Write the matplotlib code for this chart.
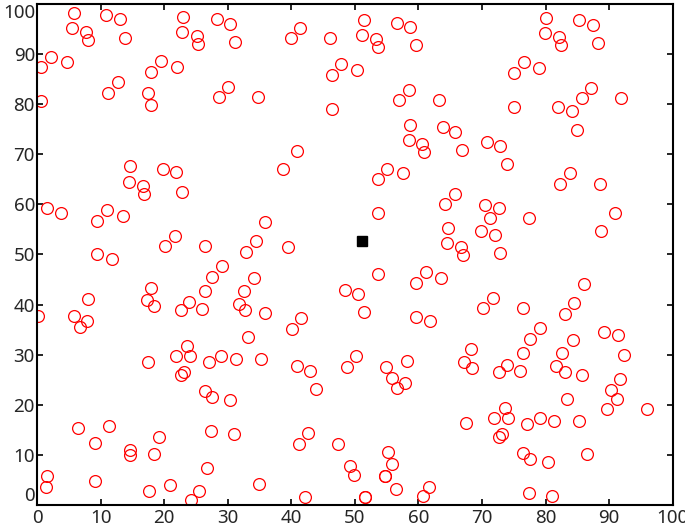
import matplotlib
matplotlib.use('Agg')
import matplotlib.pyplot as plt

################################################################################
## Data

CIRCLE_X = [
  5.8, 10.8, 13.0, 5.5, 7.7, 8.0, 13.9, 2.2, 0.7, 4.7, 0.6, 11.2, 12.7, 23.0, 22.8,
  25.1, 25.3, 28.3, 30.4, 31.2, 19.5, 18.0, 22.0, 17.5, 18.0, 28.6, 30.1, 14.7, 19.8, 21.9,
  14.5, 16.6, 16.9, 22.8, 1.5, 3.7, 11.0, 9.5, 13.5, 21.7, 20.1, 26.4, 9.5, 11.8, 29.1,
  27.5, 26.4, 32.9, 18.0, 17.3, 18.4, 8.1, 0.2, 5.8, 6.7, 7.9, 23.9, 22.6, 26.0, 32.6,
  31.7, 32.8,
  33.2, 17.5, 21.9, 23.6, 24.1, 27.0, 29.0, 31.3, 22.6, 23.2, 26.4, 27.5, 30.4, 6.4, 11.4,
  9.1, 14.7, 14.7, 18.4, 19.2, 27.3, 31.0, 26.7, 1.6, 1.4, 9.1, 17.6, 21.0, 25.5, 24.3,
  41.4, 39.9, 46.1, 51.5, 51.2, 53.4, 53.7, 56.6, 58.7, 59.6, 47.9, 46.4, 50.4, 34.8, 46.4,
  58.5, 57.0, 63.2, 58.7, 63.8, 65.8, 58.5, 60.6, 60.9, 40.9, 38.7, 55.1, 57.5,
  80.1, 85.3, 87.4, 79.9, 82.1, 82.4, 88.3, 76.6, 75.0, 79.0, 87.2, 85.7, 91.8, 75.1, 82.0,
  84.2, 85.0, 66.9, 70.8, 72.9, 73.9,
  53.6, 65.7, 64.2, 53.6, 64.7, 64.5, 35.9, 34.4, 39.5, 53.7, 61.2, 59.6, 63.6, 34.1, 35.8,
  48.4, 50.5, 51.4, 41.6, 40.1, 59.7, 61.8,
  35.2, 40.9, 43.0, 43.9, 48.7, 50.2, 54.9, 55.8, 56.7, 57.9, 58.2, 42.7, 41.2, 47.3, 55.2,
  55.8, 49.3, 49.9, 54.7, 54.7, 56.5, 35.0, 42.1, 51.6, 51.6, 61.6, 60.7,
  83.9, 82.3, 88.6, 70.4, 72.7, 71.2, 77.4, 91.0, 69.9, 72.0, 88.7, 66.7, 67.0, 72.9, 86.0,
  71.7, 70.2, 76.5, 84.5, 83.0, 79.1, 89.2, 91.4,
  77.6, 84.3, 68.2, 67.2, 68.4, 76.4, 82.6, 92.3, 74.0, 72.7, 76.0, 81.7, 83.0, 85.8, 91.7,
  90.3, 91.2, 89.6, 95.9, 83.4, 73.6, 71.9, 74.1, 67.5, 77.1, 79.2, 81.4, 85.3, 72.7, 73.2,
  76.4, 77.6, 80.4, 86.5, 77.4, 81.0,
]

CIRCLE_Y = [
  98.2, 97.8, 96.9, 95.1, 94.4, 92.7, 93.2, 89.4, 87.3, 88.3, 80.7, 82.3, 84.5, 97.4, 94.3,
  93.5, 91.9, 96.9, 96.0, 92.3, 88.5, 86.5, 87.3, 82.3, 79.8, 81.4, 83.5, 67.7, 67.1, 66.5,
  64.5, 63.7, 62.1, 62.5, 59.2, 58.3, 58.8, 56.7, 57.6, 53.7, 51.7, 51.7, 50.0, 49.1, 47.7,
  45.5, 42.7, 50.5, 43.4, 40.9, 39.7, 41.1, 37.7, 37.7, 35.5, 36.8, 40.5, 39.0, 39.1, 42.7,
  40.2, 39.0,
  33.5, 28.5, 29.7, 31.7, 29.7, 28.5, 29.7, 29.1, 26.0, 26.5, 22.7, 21.5, 20.9, 15.4, 15.8,
  12.3, 11.0, 9.9, 10.1, 13.5, 14.7, 14.2, 7.3, 5.8, 3.5, 4.7, 2.8, 4.0, 2.8, 1.0,
  95.2, 93.1, 93.1, 96.8, 93.8, 92.9, 91.3, 96.2, 95.4, 91.7, 87.9, 85.9, 86.8, 81.4, 79.1,
  82.9, 80.9, 80.9, 75.9, 75.4, 74.5, 72.9, 72.1, 70.4, 70.7, 67.1, 67.1, 66.2,
  97.2, 96.7, 95.8, 94.2, 93.3, 91.7, 92.2, 88.4, 86.3, 87.2, 83.3, 81.3, 81.3, 79.5, 79.4,
  78.6, 74.9, 70.9, 72.5, 71.7, 68.1,
  65.0, 62.1, 60.0, 58.3, 55.3, 52.2, 56.5, 52.6, 51.4, 46.0, 46.4, 44.4, 45.3, 45.3, 38.3,
  43.0, 42.1, 38.5, 37.3, 35.2, 37.5, 36.7,
  29.1, 27.7, 26.7, 23.1, 27.5, 29.7, 27.6, 25.3, 23.3, 24.4, 28.8, 14.3, 12.2, 12.2, 10.5,
  8.2, 7.7, 5.9, 5.8, 5.8, 3.1, 4.1, 1.7, 1.7, 1.7, 3.6, 1.9,
  66.2, 64.1, 64.1, 59.9, 59.3, 57.2, 57.2, 58.3, 54.7, 53.9, 54.7, 51.5, 49.8, 50.2, 44.1,
  41.3, 39.3, 39.3, 40.3, 38.1, 35.3, 34.5, 33.9,
  33.1, 32.9, 31.1, 28.5, 27.4, 30.3, 30.3, 30.0, 28.0, 26.5, 26.8, 27.8, 26.5, 25.9, 25.1,
  22.9, 21.1, 19.1, 19.1, 21.2, 19.3, 17.3, 17.3, 16.3, 16.1, 17.3, 16.8, 16.8, 13.5, 14.1,
  10.3, 9.2, 8.5, 10.1, 2.3, 1.9,
]

TARGET_X = [51.2]
TARGET_Y = [52.6]

TICKS = [0, 10, 20, 30, 40, 50, 60, 70, 80, 90, 100]

################################################################################
## Style

plt.rcParams['font.family'] = ['Noto Sans', 'DejaVu Sans']
CIRCLE_RED = '#ff0000'

################################################################################
## Plot

def main():
  fig = plt.figure(figsize=(6.85, 5.27), dpi=100)
  ax = fig.add_axes([0.054, 0.0417, 0.928, 0.951])

  ax.plot(CIRCLE_X, CIRCLE_Y, 'o', linestyle='none', markersize=8.5,
          markerfacecolor='none', markeredgecolor=CIRCLE_RED, markeredgewidth=0.9)
  ax.plot(TARGET_X, TARGET_Y, 's', linestyle='none', markersize=6.5, color='black')

  ax.set_xlim(0, 100)
  ax.set_ylim(0, 100)
  ax.set_xticks(TICKS)
  ax.set_yticks(TICKS)

  ## Inside ticks on all four sides
  ax.tick_params(direction='in', length=4.5, width=1.2, top=True, right=True,
                 labelsize=13.5, colors='black', labelcolor='#262626')
  ax.tick_params(axis='y', pad=1.5)
  ax.tick_params(axis='x', pad=3)
  for spine in ax.spines.values():
    spine.set_linewidth(1.5)

  ## End labels on the y axis are nudged inside, so they do not clip or collide
  y_labels = ax.get_yticklabels()
  y_labels[0].set_verticalalignment('bottom')
  y_labels[-1].set_verticalalignment('top')

  fig.savefig('out.png', dpi=100)
  return

if __name__ == '__main__':
  main()
